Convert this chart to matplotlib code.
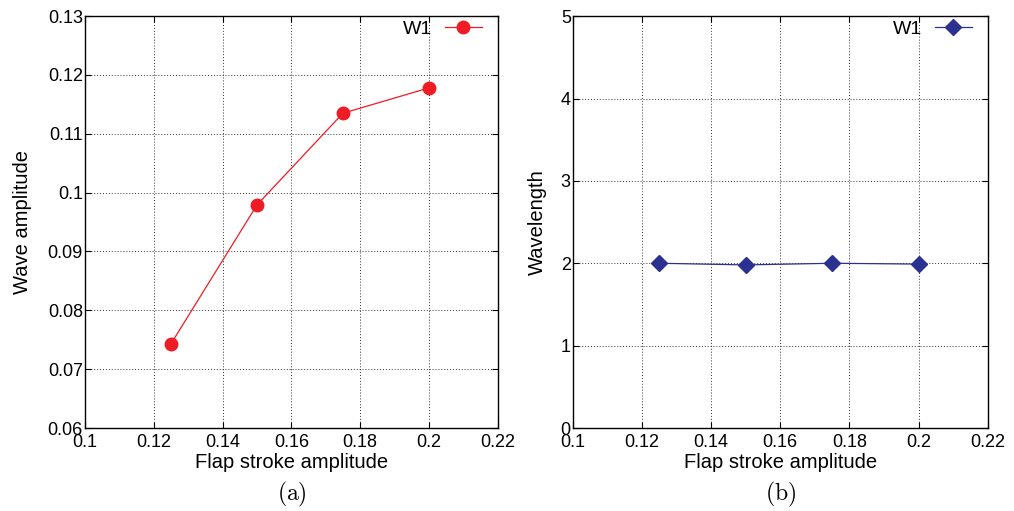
import matplotlib
matplotlib.use("Agg")
from matplotlib import pyplot as plt

plt.rcParams['font.family'] = ['Liberation Sans', 'DejaVu Sans']
plt.rcParams['mathtext.fontset'] = 'cm'

# data
stroke = [0.125, 0.15, 0.175, 0.2]
wave_amp = [0.0743, 0.0979, 0.1135, 0.1178]
wavelength = [2.0, 1.98, 2.0, 1.99]

x_ticks = [0.1, 0.12, 0.14, 0.16, 0.18, 0.2, 0.22]
x_labels = ['0.1', '0.12', '0.14', '0.16', '0.18', '0.2', '0.22']
amp_ticks = [0.06, 0.07, 0.08, 0.09, 0.1, 0.11, 0.12, 0.13]
amp_labels = ['0.06', '0.07', '0.08', '0.09', '0.1', '0.11', '0.12', '0.13']
len_ticks = [0, 1, 2, 3, 4, 5]


def style_axis(ax):
    ax.set_xlim(0.1, 0.22)
    ax.set_xticks(x_ticks)
    ax.set_xticklabels(x_labels)
    ax.tick_params(direction='in', length=4, width=0.8, top=True, right=True,
                   labelsize=13)
    ax.tick_params(axis='x', pad=4.5)
    ax.tick_params(axis='y', pad=1.5)
    ax.grid(True, color='black', linestyle=(0, (1, 2)), linewidth=0.7, alpha=0.8)
    for s in ax.spines.values():
        s.set_linewidth(1.0)
    ax.set_xlabel('Flap stroke amplitude', fontsize=14.5, labelpad=1.5)


def add_legend(ax, width_px):
    ax.legend(loc='upper right', frameon=False, fontsize=14, markerfirst=False,
              handlelength=1.9, borderaxespad=0.0, handletextpad=0.65,
              borderpad=0.0, bbox_to_anchor=(1 - 16 / width_px, 1 - 4 / 412))


fig = plt.figure(figsize=(10.14, 5.11), dpi=100)

ax1 = fig.add_axes([0.0838, 0.1624, 0.407, 0.806])
ax1.plot(stroke, wave_amp, color='#ee1c25', linewidth=0.9, marker='o',
         markersize=9, label='W1')
style_axis(ax1)
ax1.set_ylim(0.06, 0.13)
ax1.set_yticks(amp_ticks)
ax1.set_yticklabels(amp_labels)
ax1.set_ylabel('Wave amplitude', fontsize=14.5, labelpad=11)
add_legend(ax1, 413)

ax2 = fig.add_axes([0.565, 0.1624, 0.409, 0.806])
ax2.plot(stroke, wavelength, color='#2b3191', linewidth=0.9, marker='D',
         markersize=8, label='W1')
style_axis(ax2)
ax2.set_ylim(0, 5)
ax2.set_yticks(len_ticks)
ax2.set_ylabel('Wavelength', fontsize=14.5, labelpad=10)
add_legend(ax2, 415)

fig.text(0.2875, 0.02, r'$\mathrm{(a)}$', fontsize=17, ha='center')
fig.text(0.7695, 0.02, r'$\mathrm{(b)}$', fontsize=17, ha='center')

fig.savefig('out.png', dpi=100)
